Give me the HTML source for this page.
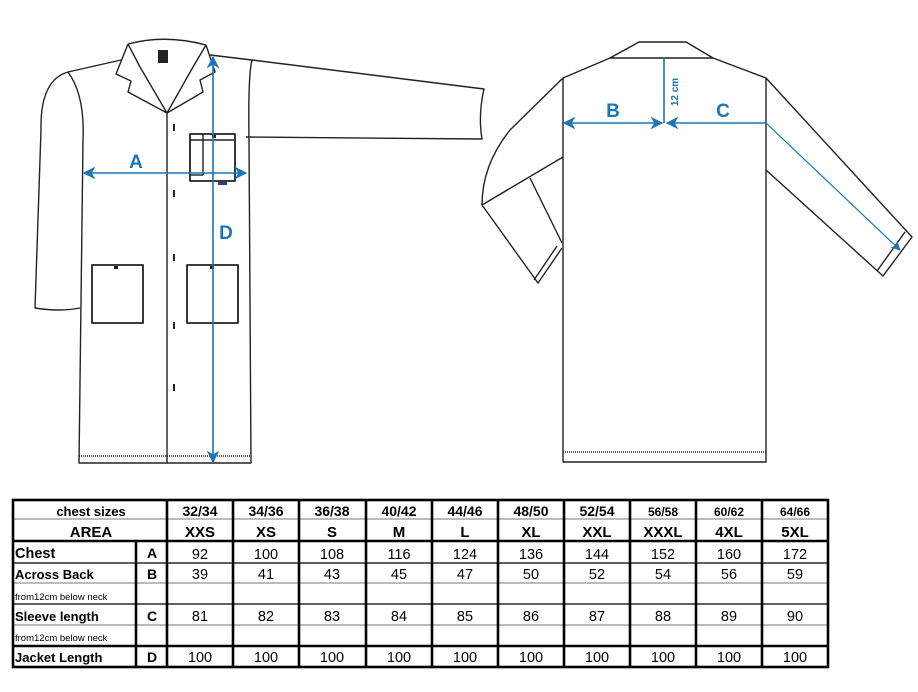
<!DOCTYPE html>
<html><head><meta charset="utf-8"><style>
html,body{margin:0;padding:0;background:#fff;}
svg{display:block;}
text{font-family:"Liberation Sans",Arial,sans-serif;}
</style></head><body>
<svg width="918" height="692" viewBox="0 0 918 692" xmlns="http://www.w3.org/2000/svg">
<defs>
<marker id="ah" viewBox="0 0 10 10" refX="9" refY="5" markerWidth="8" markerHeight="8" orient="auto-start-reverse"><path d="M0,0 L10,5 L0,10 L3,5 z" fill="#1a75bb"/></marker>
</defs>
<g fill="none" stroke="#222" stroke-width="1.4" stroke-linejoin="round">
<!-- FRONT COAT -->
<path d="M128,44 Q165,34 206,45"/>
<path d="M121,60 L68,72 Q40,80 41,130 L35,308 Q60,312 80,308"/>
<path d="M68,72 Q85,95 83,140 L79,463 L251,463 L249,140 Q248,75 252,60 L210,55"/>
<line x1="79" y1="456" x2="251" y2="456" stroke-dasharray="1,1"/>
<path d="M252,60 L484,89 Q478,115 482,139 L246,137"/>
<line x1="167" y1="113" x2="167" y2="463"/>
<path d="M128,44 L116,74 L131,81 L128,92 L167,113 L140,67 L128,44"/>
<path d="M206,45 L215,72 L200,80 L203,92 L167,113 L193,67 L206,45"/>
<rect x="190" y="134" width="45" height="47" stroke-width="1.8"/>
<line x1="190" y1="140" x2="235" y2="140"/>
<line x1="203" y1="134" x2="203" y2="175"/>
<line x1="190" y1="175" x2="203" y2="175"/>
<rect x="92" y="265" width="51" height="58" stroke-width="1.8"/>
<rect x="187" y="265" width="51" height="58" stroke-width="1.8"/>
<!-- BACK COAT -->
<path d="M610,58 L639,42 L686,42 L713,58 Z"/>
<path d="M610,58 L563,78 L563,462 L766,462 L766,78 L713,58"/>
<line x1="563" y1="452" x2="766" y2="452" stroke-dasharray="1,1"/>
<path d="M563,78 L510,130 Q482,165 482,205 L538,283 L562,248"/>
<path d="M563,157 L482,205"/>
<path d="M530,178 L562,243"/>
<path d="M534,280 L557,246"/>
<path d="M766,78 L912,237 L883,276 L766,170"/>
<path d="M905,232 L877,271"/>
</g>
<g fill="#222">
<rect x="158" y="50" width="10" height="13"/>
<rect x="173" y="124" width="2" height="7"/><rect x="173" y="190" width="2" height="7"/><rect x="173" y="254" width="2" height="7"/><rect x="173" y="322" width="2" height="7"/><rect x="173" y="384" width="2" height="7"/>
<rect x="114" y="266" width="4" height="3"/><rect x="210" y="266" width="4" height="3"/><rect x="212" y="135" width="4" height="3"/>
</g>
<rect x="218" y="182" width="9" height="3" fill="#2a3a9a"/>
<!-- blue dimensions -->
<g stroke="#1a75bb" stroke-width="1.6" fill="none">
<line x1="84" y1="173" x2="246" y2="173" marker-start="url(#ah)" marker-end="url(#ah)"/>
<line x1="213" y1="57" x2="213" y2="462" marker-start="url(#ah)" marker-end="url(#ah)"/>
<line x1="564" y1="123" x2="662" y2="123" marker-start="url(#ah)" marker-end="url(#ah)"/>
<line x1="664" y1="59" x2="664" y2="123"/>
<line x1="766" y1="123" x2="667" y2="123" marker-end="url(#ah)"/>
<line x1="766" y1="123" x2="900" y2="250" marker-end="url(#ah)" stroke-width="1.2"/>
</g>
<g fill="#1a75bb" font-weight="bold" font-size="19" text-anchor="middle">
<text x="136" y="168">A</text>
<text x="226" y="239">D</text>
<text x="613" y="117">B</text>
<text x="723" y="117">C</text>
<text transform="translate(678,92) rotate(-90)" font-size="10">12 cm</text>
</g>
<!-- TABLE -->
<g stroke="#bbb" stroke-width="2">
<line x1="13" y1="519" x2="828" y2="519"/>
<line x1="13" y1="583" x2="828" y2="583"/>
<line x1="13" y1="625" x2="828" y2="625"/>
</g>
<g stroke="#000" stroke-width="1.2">
<line x1="13" y1="563" x2="828" y2="563"/>
<line x1="13" y1="604" x2="828" y2="604"/>
</g>
<g stroke="#000" stroke-width="2.6" fill="none">
<rect x="13" y="500" width="815" height="167"/>
<line x1="13" y1="541" x2="828" y2="541"/>
<line x1="13" y1="646" x2="828" y2="646"/>
<line x1="136" y1="541" x2="136" y2="667"/>
<line x1="167" y1="500" x2="167" y2="667"/>
<line x1="233" y1="500" x2="233" y2="667"/>
<line x1="299" y1="500" x2="299" y2="667"/>
<line x1="366" y1="500" x2="366" y2="667"/>
<line x1="432" y1="500" x2="432" y2="667"/>
<line x1="498" y1="500" x2="498" y2="667"/>
<line x1="564" y1="500" x2="564" y2="667"/>
<line x1="630" y1="500" x2="630" y2="667"/>
<line x1="696" y1="500" x2="696" y2="667"/>
<line x1="762" y1="500" x2="762" y2="667"/>
</g>
<g font-weight="bold" text-anchor="middle" fill="#000">
<text x="91" y="516" font-size="13">chest sizes</text>
<text x="91" y="537" font-size="15">AREA</text>
<g font-size="14">
<text x="200" y="516">32/34</text><text x="266" y="516">34/36</text><text x="332" y="516">36/38</text><text x="399" y="516">40/42</text><text x="465" y="516">44/46</text><text x="531" y="516">48/50</text><text x="597" y="516">52/54</text>
</g>
<g font-size="12"><text x="663" y="516">56/58</text><text x="729" y="516">60/62</text><text x="795" y="516">64/66</text></g>
<g font-size="15">
<text x="200" y="537">XXS</text><text x="266" y="537">XS</text><text x="332" y="537">S</text><text x="399" y="537">M</text><text x="465" y="537">L</text><text x="531" y="537">XL</text><text x="597" y="537">XXL</text><text x="663" y="537">XXXL</text><text x="729" y="537">4XL</text><text x="795" y="537">5XL</text>
</g>
<g font-size="14"><text x="152" y="558">A</text><text x="152" y="579">B</text><text x="152" y="621">C</text><text x="152" y="662">D</text></g>
</g>
<g font-weight="bold" fill="#000">
<text x="15" y="558" font-size="14.5">Chest</text>
<text x="15" y="579" font-size="13">Across Back</text>
<text x="15" y="621" font-size="13">Sleeve length</text>
<text x="15" y="662" font-size="13">Jacket Length</text>
</g>
<g fill="#000" font-size="9.5"><text x="15" y="600">from12cm below  neck</text><text x="15" y="641">from12cm below  neck</text></g>
<g font-size="14.5" text-anchor="middle" fill="#000">
<text x="200" y="559">92</text><text x="266" y="559">100</text><text x="332" y="559">108</text><text x="399" y="559">116</text><text x="465" y="559">124</text><text x="531" y="559">136</text><text x="597" y="559">144</text><text x="663" y="559">152</text><text x="729" y="559">160</text><text x="795" y="559">172</text>
<text x="200" y="579">39</text><text x="266" y="579">41</text><text x="332" y="579">43</text><text x="399" y="579">45</text><text x="465" y="579">47</text><text x="531" y="579">50</text><text x="597" y="579">52</text><text x="663" y="579">54</text><text x="729" y="579">56</text><text x="795" y="579">59</text>
<text x="200" y="621">81</text><text x="266" y="621">82</text><text x="332" y="621">83</text><text x="399" y="621">84</text><text x="465" y="621">85</text><text x="531" y="621">86</text><text x="597" y="621">87</text><text x="663" y="621">88</text><text x="729" y="621">89</text><text x="795" y="621">90</text>
<text x="200" y="662">100</text><text x="266" y="662">100</text><text x="332" y="662">100</text><text x="399" y="662">100</text><text x="465" y="662">100</text><text x="531" y="662">100</text><text x="597" y="662">100</text><text x="663" y="662">100</text><text x="729" y="662">100</text><text x="795" y="662">100</text>
</g>
</svg>
</body></html>
